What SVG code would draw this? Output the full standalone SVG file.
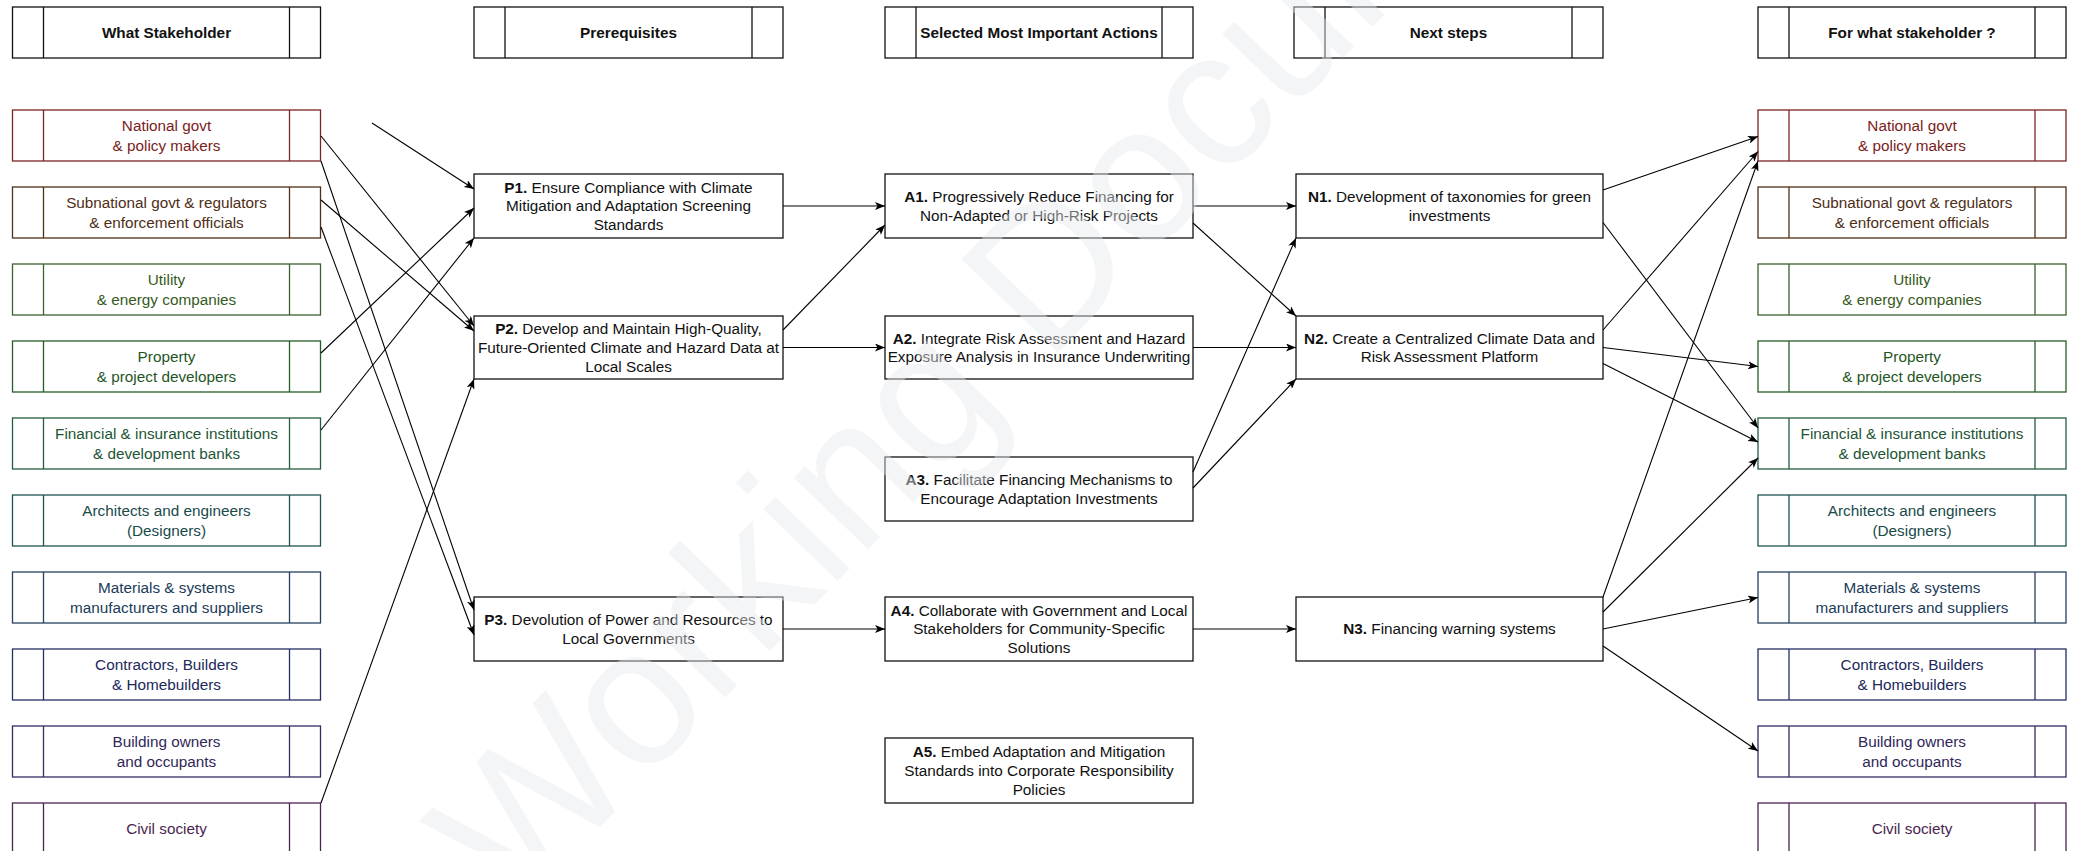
<svg xmlns="http://www.w3.org/2000/svg" width="2074" height="851" viewBox="0 0 2074 851">
<style>
text{font-family:"Liberation Sans",Arial,sans-serif;font-size:15.3px;text-anchor:middle;fill:#111}
.b{font-weight:bold}
.box{fill:#fff;stroke:#111;stroke-width:1.3}
.sep{stroke:#111;stroke-width:1.3}
.c line{stroke:#000;stroke-width:1.1;marker-end:url(#ah)}
.s1 rect,.s1 line{stroke:#7b2424}.s1 text{fill:#7a1c1c}
.s2 rect,.s2 line{stroke:#4f3019}.s2 text{fill:#4d2e16}
.s3 rect,.s3 line{stroke:#3d6230}.s3 text{fill:#365a22}
.s4 rect,.s4 line{stroke:#275c27}.s4 text{fill:#1f551f}
.s5 rect,.s5 line{stroke:#245c3c}.s5 text{fill:#1d5535}
.s6 rect,.s6 line{stroke:#1f5252}.s6 text{fill:#1a4a4a}
.s7 rect,.s7 line{stroke:#26415e}.s7 text{fill:#213a58}
.s8 rect,.s8 line{stroke:#262e62}.s8 text{fill:#21285a}
.s9 rect,.s9 line{stroke:#362c60}.s9 text{fill:#312758}
.s10 rect,.s10 line{stroke:#4c2252}.s10 text{fill:#4a1f50}
.wm{font-size:195px;fill:#e6e9ed;fill-opacity:0.45;text-anchor:start}
</style>
<defs>
<marker id="ah" viewBox="0 0 10 8" refX="10" refY="4" markerWidth="10" markerHeight="8" markerUnits="userSpaceOnUse" orient="auto">
<path d="M0,0 L10,4 L0,8 L2.5,4 Z" fill="#000"/>
</marker>
</defs>
<rect x="0" y="0" width="2074" height="851" fill="#fff"/>

<!-- headers -->
<g id="h-what">
<rect class="box" x="12.5" y="7" width="308" height="51"/>
<line class="sep" x1="43.5" y1="7" x2="43.5" y2="58"/><line class="sep" x1="289.5" y1="7" x2="289.5" y2="58"/>
<text class="b" x="166.5" y="37.8">What Stakeholder</text>
</g>
<g id="h-prereq">
<rect class="box" x="474" y="7" width="309" height="51"/>
<line class="sep" x1="505" y1="7" x2="505" y2="58"/><line class="sep" x1="752" y1="7" x2="752" y2="58"/>
<text class="b" x="628.5" y="37.8">Prerequisites</text>
</g>
<g id="h-actions">
<rect class="box" x="885" y="7" width="308" height="51"/>
<line class="sep" x1="916" y1="7" x2="916" y2="58"/><line class="sep" x1="1162" y1="7" x2="1162" y2="58"/>
<text class="b" x="1039" y="37.8">Selected Most Important Actions</text>
</g>
<g id="h-next">
<rect class="box" x="1294" y="7" width="309" height="51"/>
<line class="sep" x1="1325" y1="7" x2="1325" y2="58"/><line class="sep" x1="1572" y1="7" x2="1572" y2="58"/>
<text class="b" x="1448.5" y="37.8">Next steps</text>
</g>
<g id="h-for">
<rect class="box" x="1758" y="7" width="308" height="51"/>
<line class="sep" x1="1789" y1="7" x2="1789" y2="58"/><line class="sep" x1="2035" y1="7" x2="2035" y2="58"/>
<text class="b" x="1912" y="37.8">For what stakeholder ?</text>
</g>

<!-- left stakeholders -->
<g id="L1" class="s1"><rect class="box" x="12.5" y="110" width="308" height="51"/><line class="sep" x1="43.5" y1="110" x2="43.5" y2="161"/><line class="sep" x1="289.5" y1="110" x2="289.5" y2="161"/><text x="166.5" y="131.3">National govt</text><text x="166.5" y="150.6">&amp; policy makers</text></g>
<g id="L2" class="s2"><rect class="box" x="12.5" y="187" width="308" height="51"/><line class="sep" x1="43.5" y1="187" x2="43.5" y2="238"/><line class="sep" x1="289.5" y1="187" x2="289.5" y2="238"/><text x="166.5" y="208.3">Subnational govt &amp; regulators</text><text x="166.5" y="227.6">&amp; enforcement officials</text></g>
<g id="L3" class="s3"><rect class="box" x="12.5" y="264" width="308" height="51"/><line class="sep" x1="43.5" y1="264" x2="43.5" y2="315"/><line class="sep" x1="289.5" y1="264" x2="289.5" y2="315"/><text x="166.5" y="285.3">Utility</text><text x="166.5" y="304.6">&amp; energy companies</text></g>
<g id="L4" class="s4"><rect class="box" x="12.5" y="341" width="308" height="51"/><line class="sep" x1="43.5" y1="341" x2="43.5" y2="392"/><line class="sep" x1="289.5" y1="341" x2="289.5" y2="392"/><text x="166.5" y="362.3">Property</text><text x="166.5" y="381.6">&amp; project developers</text></g>
<g id="L5" class="s5"><rect class="box" x="12.5" y="418" width="308" height="51"/><line class="sep" x1="43.5" y1="418" x2="43.5" y2="469"/><line class="sep" x1="289.5" y1="418" x2="289.5" y2="469"/><text x="166.5" y="439.3">Financial &amp; insurance institutions</text><text x="166.5" y="458.6">&amp; development banks</text></g>
<g id="L6" class="s6"><rect class="box" x="12.5" y="495" width="308" height="51"/><line class="sep" x1="43.5" y1="495" x2="43.5" y2="546"/><line class="sep" x1="289.5" y1="495" x2="289.5" y2="546"/><text x="166.5" y="516.3">Architects and engineers</text><text x="166.5" y="535.6">(Designers)</text></g>
<g id="L7" class="s7"><rect class="box" x="12.5" y="572" width="308" height="51"/><line class="sep" x1="43.5" y1="572" x2="43.5" y2="623"/><line class="sep" x1="289.5" y1="572" x2="289.5" y2="623"/><text x="166.5" y="593.3">Materials &amp; systems</text><text x="166.5" y="612.6">manufacturers and suppliers</text></g>
<g id="L8" class="s8"><rect class="box" x="12.5" y="649" width="308" height="51"/><line class="sep" x1="43.5" y1="649" x2="43.5" y2="700"/><line class="sep" x1="289.5" y1="649" x2="289.5" y2="700"/><text x="166.5" y="670.3">Contractors, Builders</text><text x="166.5" y="689.6">&amp; Homebuilders</text></g>
<g id="L9" class="s9"><rect class="box" x="12.5" y="726" width="308" height="51"/><line class="sep" x1="43.5" y1="726" x2="43.5" y2="777"/><line class="sep" x1="289.5" y1="726" x2="289.5" y2="777"/><text x="166.5" y="747.3">Building owners</text><text x="166.5" y="766.6">and occupants</text></g>
<g id="L10" class="s10"><rect class="box" x="12.5" y="803" width="308" height="51"/><line class="sep" x1="43.5" y1="803" x2="43.5" y2="854"/><line class="sep" x1="289.5" y1="803" x2="289.5" y2="854"/><text x="166.5" y="833.9">Civil society</text></g>

<!-- right stakeholders -->
<g id="R1" class="s1"><rect class="box" x="1758" y="110" width="308" height="51"/><line class="sep" x1="1789" y1="110" x2="1789" y2="161"/><line class="sep" x1="2035" y1="110" x2="2035" y2="161"/><text x="1912" y="131.3">National govt</text><text x="1912" y="150.6">&amp; policy makers</text></g>
<g id="R2" class="s2"><rect class="box" x="1758" y="187" width="308" height="51"/><line class="sep" x1="1789" y1="187" x2="1789" y2="238"/><line class="sep" x1="2035" y1="187" x2="2035" y2="238"/><text x="1912" y="208.3">Subnational govt &amp; regulators</text><text x="1912" y="227.6">&amp; enforcement officials</text></g>
<g id="R3" class="s3"><rect class="box" x="1758" y="264" width="308" height="51"/><line class="sep" x1="1789" y1="264" x2="1789" y2="315"/><line class="sep" x1="2035" y1="264" x2="2035" y2="315"/><text x="1912" y="285.3">Utility</text><text x="1912" y="304.6">&amp; energy companies</text></g>
<g id="R4" class="s4"><rect class="box" x="1758" y="341" width="308" height="51"/><line class="sep" x1="1789" y1="341" x2="1789" y2="392"/><line class="sep" x1="2035" y1="341" x2="2035" y2="392"/><text x="1912" y="362.3">Property</text><text x="1912" y="381.6">&amp; project developers</text></g>
<g id="R5" class="s5"><rect class="box" x="1758" y="418" width="308" height="51"/><line class="sep" x1="1789" y1="418" x2="1789" y2="469"/><line class="sep" x1="2035" y1="418" x2="2035" y2="469"/><text x="1912" y="439.3">Financial &amp; insurance institutions</text><text x="1912" y="458.6">&amp; development banks</text></g>
<g id="R6" class="s6"><rect class="box" x="1758" y="495" width="308" height="51"/><line class="sep" x1="1789" y1="495" x2="1789" y2="546"/><line class="sep" x1="2035" y1="495" x2="2035" y2="546"/><text x="1912" y="516.3">Architects and engineers</text><text x="1912" y="535.6">(Designers)</text></g>
<g id="R7" class="s7"><rect class="box" x="1758" y="572" width="308" height="51"/><line class="sep" x1="1789" y1="572" x2="1789" y2="623"/><line class="sep" x1="2035" y1="572" x2="2035" y2="623"/><text x="1912" y="593.3">Materials &amp; systems</text><text x="1912" y="612.6">manufacturers and suppliers</text></g>
<g id="R8" class="s8"><rect class="box" x="1758" y="649" width="308" height="51"/><line class="sep" x1="1789" y1="649" x2="1789" y2="700"/><line class="sep" x1="2035" y1="649" x2="2035" y2="700"/><text x="1912" y="670.3">Contractors, Builders</text><text x="1912" y="689.6">&amp; Homebuilders</text></g>
<g id="R9" class="s9"><rect class="box" x="1758" y="726" width="308" height="51"/><line class="sep" x1="1789" y1="726" x2="1789" y2="777"/><line class="sep" x1="2035" y1="726" x2="2035" y2="777"/><text x="1912" y="747.3">Building owners</text><text x="1912" y="766.6">and occupants</text></g>
<g id="R10" class="s10"><rect class="box" x="1758" y="803" width="308" height="51"/><line class="sep" x1="1789" y1="803" x2="1789" y2="854"/><line class="sep" x1="2035" y1="803" x2="2035" y2="854"/><text x="1912" y="833.9">Civil society</text></g>

<!-- prerequisites -->
<g id="P1"><rect class="box" x="474" y="174" width="309" height="64"/>
<text x="628.5" y="192.7"><tspan class="b">P1.</tspan> Ensure Compliance with Climate</text>
<text x="628.5" y="211.4">Mitigation and Adaptation Screening</text>
<text x="628.5" y="230.1">Standards</text></g>
<g id="P2"><rect class="box" x="474" y="316" width="309" height="63"/>
<text x="628.5" y="334.2"><tspan class="b">P2.</tspan> Develop and Maintain High-Quality,</text>
<text x="628.5" y="352.9">Future-Oriented Climate and Hazard Data at</text>
<text x="628.5" y="371.6">Local Scales</text></g>
<g id="P3"><rect class="box" x="474" y="597" width="309" height="64"/>
<text x="628.5" y="625.1"><tspan class="b">P3.</tspan> Devolution of Power and Resources to</text>
<text x="628.5" y="643.8">Local Governments</text></g>

<!-- actions -->
<g id="A1"><rect class="box" x="885" y="174" width="308" height="64"/>
<text x="1039" y="202.1"><tspan class="b">A1.</tspan> Progressively Reduce Financing for</text>
<text x="1039" y="220.8">Non-Adapted or High-Risk Projects</text></g>
<g id="A2"><rect class="box" x="885" y="316" width="308" height="63"/>
<text x="1039" y="343.6"><tspan class="b">A2.</tspan> Integrate Risk Assessment and Hazard</text>
<text x="1039" y="362.3">Exposure Analysis in Insurance Underwriting</text></g>
<g id="A3"><rect class="box" x="885" y="457" width="308" height="64"/>
<text x="1039" y="485.1"><tspan class="b">A3.</tspan> Facilitate Financing Mechanisms to</text>
<text x="1039" y="503.8">Encourage Adaptation Investments</text></g>
<g id="A4"><rect class="box" x="885" y="597" width="308" height="64"/>
<text x="1039" y="615.7"><tspan class="b">A4.</tspan> Collaborate with Government and Local</text>
<text x="1039" y="634.4">Stakeholders for Community-Specific</text>
<text x="1039" y="653.1">Solutions</text></g>
<g id="A5"><rect class="box" x="885" y="738" width="308" height="65"/>
<text x="1039" y="757.2"><tspan class="b">A5.</tspan> Embed Adaptation and Mitigation</text>
<text x="1039" y="775.9">Standards into Corporate Responsibility</text>
<text x="1039" y="794.6">Policies</text></g>

<!-- next steps -->
<g id="N1"><rect class="box" x="1296" y="174" width="307" height="64"/>
<text x="1449.5" y="202.1"><tspan class="b">N1.</tspan> Development of taxonomies for green</text>
<text x="1449.5" y="220.8">investments</text></g>
<g id="N2"><rect class="box" x="1296" y="316" width="307" height="63"/>
<text x="1449.5" y="343.6"><tspan class="b">N2.</tspan> Create a Centralized Climate Data and</text>
<text x="1449.5" y="362.3">Risk Assessment Platform</text></g>
<g id="N3"><rect class="box" x="1296" y="597" width="307" height="64"/>
<text x="1449.5" y="634.4"><tspan class="b">N3.</tspan> Financing warning systems</text></g>

<!-- connectors -->
<g id="connectors" class="c">
<line x1="372" y1="123" x2="474" y2="189"/>
<line x1="321" y1="136" x2="474" y2="326"/>
<line x1="321" y1="161" x2="474" y2="610"/>
<line x1="321" y1="200" x2="474" y2="331"/>
<line x1="321" y1="227" x2="474" y2="635"/>
<line x1="321" y1="353" x2="474" y2="208"/>
<line x1="321" y1="430" x2="474" y2="238"/>
<line x1="321" y1="803" x2="474" y2="379"/>

<line x1="783" y1="206" x2="885" y2="206"/>
<line x1="783" y1="330" x2="885" y2="225"/>
<line x1="783" y1="347.5" x2="885" y2="347.5"/>
<line x1="783" y1="629" x2="885" y2="629"/>

<line x1="1193" y1="206" x2="1296" y2="206"/>
<line x1="1193" y1="223" x2="1296" y2="316"/>
<line x1="1193" y1="347.5" x2="1296" y2="347.5"/>
<line x1="1193" y1="472" x2="1296" y2="238"/>
<line x1="1193" y1="488" x2="1296" y2="379"/>
<line x1="1193" y1="629" x2="1296" y2="629"/>

<line x1="1603" y1="190" x2="1758" y2="136.5"/>
<line x1="1603" y1="222.5" x2="1758" y2="428"/>
<line x1="1603" y1="330" x2="1758" y2="151.5"/>
<line x1="1603" y1="347.5" x2="1758" y2="366.5"/>
<line x1="1603" y1="363.5" x2="1758" y2="442"/>
<line x1="1603" y1="597" x2="1758" y2="161"/>
<line x1="1603" y1="612" x2="1758" y2="458"/>
<line x1="1603" y1="629" x2="1758" y2="597.5"/>
<line x1="1603" y1="646" x2="1758" y2="751"/>
</g>

<text class="wm" transform="translate(515 915) rotate(-46)">Working Document</text>
</svg>
